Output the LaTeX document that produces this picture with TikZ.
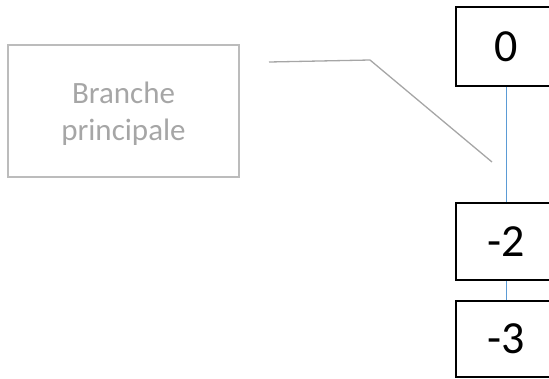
\documentclass[tikz,border=0pt]{standalone}
\usepackage{fontspec}
\setmainfont{Carlito}
\usepackage{tikz}
\definecolor{calloutgray}{HTML}{A6A6A6}
\definecolor{linkblue}{HTML}{5B9BD5}

\begin{document}
\begin{tikzpicture}[x=1pt,y=-1pt]
    % Column x position
    \newcommand{\colx}{506}
    % Box size
    \newcommand{\boxw}{100pt}
    % Styles
    \tikzstyle{commit}=[rectangle, draw=black, line width=1.6pt, fill=white,
      minimum width=\boxw, inner sep=0, font=\fontsize{46}{54}\selectfont]
    \tikzstyle{label}=[rectangle, draw=calloutgray!75, line width=1.3pt,
      minimum width=231pt, minimum height=132pt, align=center,
      text=calloutgray, font=\fontsize{31}{37}\selectfont]
    \tikzstyle{link}=[draw=linkblue, line width=0.8pt]
    % Frame
    \useasboundingbox (0,0) rectangle (549,378);
    \clip (0,0) rectangle (549,378);

    % Label box
    \node[label] (Label) at (123.5,111) {};
    \node[text=calloutgray, align=center, font=\fontsize{31}{37}\selectfont]
      (Label-text) at (123.5,114) {Branche\\principale};

    % Commits
    \node[commit, minimum height=79pt] (Commit-0) at (\colx,46.5) {0};
    \node[commit, minimum height=77pt] (Commit-2) at (\colx,241.5) {-2};
    \node[commit, minimum height=76pt] (Commit-3) at (\colx,339) {-3};

    % Connect commits
    \draw[link] (Commit-0) -- (Commit-2);
    \draw[link] (Commit-2) -- (Commit-3);

    % Callout line
    \coordinate (Callout-start) at (269,62);
    \coordinate (Callout-bend) at (370,60);
    \coordinate (Callout-end) at (492,162);
    \draw[calloutgray, line width=1.3pt] (Callout-start) -- (Callout-bend) -- (Callout-end);
  \end{tikzpicture}
\end{document}
